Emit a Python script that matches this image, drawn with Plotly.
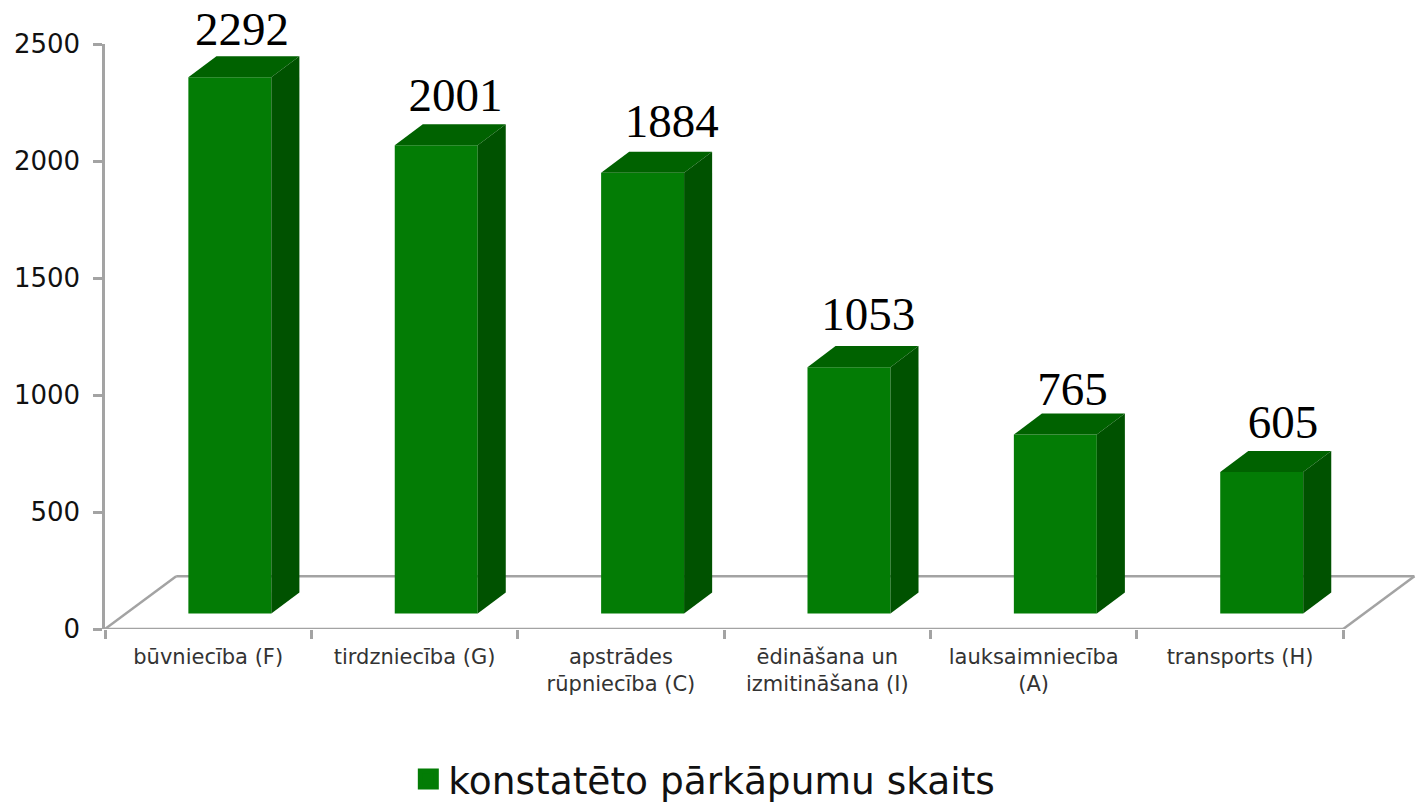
import plotly.graph_objects as go

categories = ["būvniecība (F)", "tirdzniecība (G)", "apstrādes<br>rūpniecība (C)",
              "ēdināšana un<br>izmitināšana (I)", "lauksaimniecība<br>(A)", "transports (H)"]
values = [2292, 2001, 1884, 1053, 765, 605]
series_name = "konstatēto pārkāpumu skaits"
y_ticks = [0, 500, 1000, 1500, 2000, 2500]

# pseudo-3D geometry, in axis units
BAR_W = 0.402
BAR_POS = 0.605
BASE = 66
DX, DY = 0.136, 90
FLOOR_DX, FLOOR_DY = 0.345, 225

# hand-placed data label nudges in the source chart (axis units)
label_dx = [0.0, 0.034, 0.082, 0.034, 0.024, 0.044]
label_dy = [-4, 6, 12, 20, -16, 6]

FRONT, TOP, SIDE = "#037C05", "#006200", "#005200"
GRAY = "#A3A3A3"
n = len(categories)

fig = go.Figure()
xs = [i + BAR_POS for i in range(n)]

fig.add_trace(go.Bar(x=xs, y=values, base=BASE, width=BAR_W, marker=dict(color=FRONT, line_width=0),
                     showlegend=False, name=series_name))

for x, v in zip(xs, values):
    l, r = x - BAR_W / 2, x + BAR_W / 2
    t = BASE + v
    fig.add_trace(go.Scatter(x=[l, r, r + DX, l + DX, l], y=[t, t, t + DY, t + DY, t], mode="lines",
                             fill="toself", fillcolor=TOP, line=dict(width=0), showlegend=False, hoverinfo="skip"))
    fig.add_trace(go.Scatter(x=[r, r + DX, r + DX, r, r], y=[BASE, BASE + DY, t + DY, t, BASE], mode="lines",
                             fill="toself", fillcolor=SIDE, line=dict(width=0), showlegend=False, hoverinfo="skip"))

fig.add_trace(go.Scatter(x=[x + DX / 2 - 0.009 + d for x, d in zip(xs, label_dx)],
                         y=[v + BASE + DY + d for v, d in zip(values, label_dy)],
                         mode="text", text=[str(v) for v in values], textposition="top center",
                         textfont=dict(family="Liberation Serif", size=47, color="#000000"),
                         cliponaxis=False, showlegend=False, hoverinfo="skip"))

# legend entry
fig.add_trace(go.Scatter(x=[None], y=[None], mode="markers", name=series_name,
                         marker=dict(symbol="square", size=16, color=FRONT, line=dict(color=FRONT, width=5))))

# floor outline
line = dict(color=GRAY, width=2.5)
fig.add_shape(type="line", x0=0, y0=0, x1=n, y1=0, line=line, layer="below")
fig.add_shape(type="line", x0=0, y0=0, x1=FLOOR_DX, y1=FLOOR_DY, line=line, layer="below")
fig.add_shape(type="line", x0=FLOOR_DX, y0=FLOOR_DY, x1=n + FLOOR_DX, y1=FLOOR_DY, line=line, layer="below")
fig.add_shape(type="line", x0=n + FLOOR_DX, y0=FLOOR_DY, x1=n, y1=0, line=line, layer="below")

fig.update_layout(
    width=1420, height=810, autosize=False,
    margin=dict(l=105, r=0, t=44, b=181, autoexpand=False),
    paper_bgcolor="white", plot_bgcolor="white",
    showlegend=True,
    legend=dict(orientation="h", x=0.496, xref="container", xanchor="center", y=0, yref="container", yanchor="bottom",
                font=dict(family="DejaVu Sans", size=37.5, color="#111111"), itemsizing="trace"),
    font=dict(family="DejaVu Sans"),
    xaxis=dict(range=[0, 6.372], tickmode="array", tickvals=[i + 0.5 for i in range(n)], ticktext=categories,
               ticks="", showgrid=False, zeroline=False, showline=False, tickangle=0, ticklabelstandoff=13,
               tickfont=dict(family="DejaVu Sans", size=21, color="#333333"),
               minor=dict(tickmode="array", tickvals=list(range(n + 1)), ticks="outside", ticklen=9,
                          tickcolor=GRAY, tickwidth=2.5, showgrid=False)),
    yaxis=dict(range=[0, 2500], tickmode="array", tickvals=y_ticks, ticks="outside", ticklen=9,
               tickcolor=GRAY, tickwidth=2.5, showline=True, linecolor=GRAY, linewidth=2.5,
               showgrid=False, zeroline=False, ticklabelstandoff=8,
               tickfont=dict(family="DejaVu Sans", size=26, color="#111111")),
)

fig.write_html("out.html", config={"displayModeBar": False},
               post_script="document.body.style.margin='0';document.documentElement.style.overflow='hidden';document.body.style.overflow='hidden';")
